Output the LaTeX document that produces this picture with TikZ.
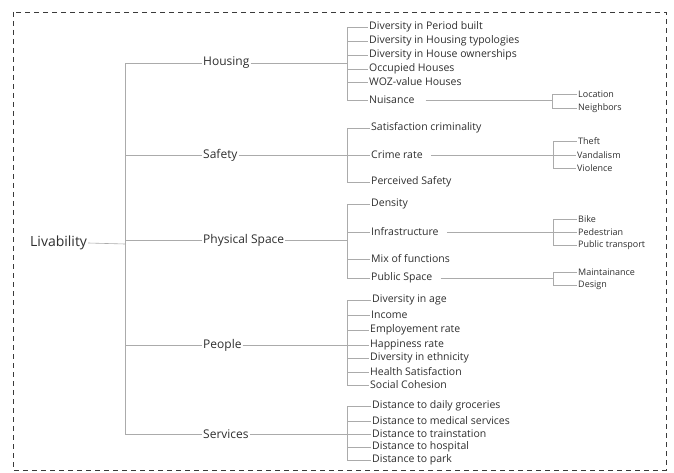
\documentclass[tikz,border=0pt]{standalone}
\usepackage{fontspec}
\setmainfont{Open Sans}
\definecolor{txt}{HTML}{2E2E2E}
\definecolor{wire}{HTML}{ABABAB}
\definecolor{frame}{HTML}{3A3A3A}
\begin{document}
\begin{tikzpicture}[x=1pt,y=-1pt,
  lbl/.style={anchor=west,inner sep=1pt,text=txt},
  root/.style={lbl,font=\fontsize{14}{16}\selectfont},
  cat/.style={lbl,font=\fontsize{12}{14}\selectfont},
  leaf/.style={lbl,font=\fontsize{10.5}{12}\selectfont},
  sub/.style={lbl,font=\fontsize{9}{11}\selectfont},
  wire/.style={draw=wire,line width=0.6pt}]
\useasboundingbox (0,0) rectangle (674,473);
\draw[frame,line width=0.9pt,dash pattern=on 5pt off 4pt] (13,12) rectangle (666,470);

% root and categories
\node[root] (liv) at (29,243) {Livability};
\node[cat] (hou) at (202,63) {Housing};
\node[cat] (saf) at (202,155) {Safety};
\node[cat] (phy) at (202,240) {Physical Space};
\node[cat] (peo) at (202,345) {People};
\node[cat] (ser) at (202,434) {Services};

% Housing
\node[leaf] (h1) at (368,27) {Diversity in Period built};
\node[leaf] (h2) at (368,41) {Diversity in Housing typologies};
\node[leaf] (h3) at (368,55) {Diversity in House ownerships};
\node[leaf] (h4) at (368,69) {Occupied Houses};
\node[leaf] (h5) at (368,82) {WOZ-value Houses};
\node[leaf] (h6) at (368,100) {Nuisance};
\node[sub] (h61) at (577,94) {Location};
\node[sub] (h62) at (577,108) {Neighbors};

% Safety
\node[leaf] (s1) at (370,128) {Satisfaction criminality};
\node[leaf] (s2) at (370,155) {Crime rate};
\node[leaf] (s3) at (370,182) {Perceived Safety};
\node[sub] (s21) at (577,141) {Theft};
\node[sub] (s22) at (576,155) {Vandalism};
\node[sub] (s23) at (576,168) {Violence};

% Physical Space
\node[leaf] (p1) at (370,204) {Density};
\node[leaf] (p2) at (370,232) {Infrastructure};
\node[leaf] (p3) at (370,259) {Mix of functions};
\node[leaf] (p4) at (370,278) {Public Space};
\node[sub] (p21) at (577,219) {Bike};
\node[sub] (p22) at (577,232) {Pedestrian};
\node[sub] (p23) at (577,245) {Public transport};
\node[sub] (p41) at (577,272) {Maintainance};
\node[sub] (p42) at (577,285) {Design};

% People
\node[leaf] (q1) at (371,300) {Diversity in age};
\node[leaf] (q2) at (370,315) {Income};
\node[leaf] (q3) at (369,330) {Employement rate};
\node[leaf] (q4) at (369,345) {Happiness rate};
\node[leaf] (q5) at (369,358) {Diversity in ethnicity};
\node[leaf] (q6) at (369,372) {Health Satisfaction};
\node[leaf] (q7) at (369,385) {Social Cohesion};

% Services
\node[leaf] (v1) at (371,406) {Distance to daily groceries};
\node[leaf] (v2) at (371,421) {Distance to medical services};
\node[leaf] (v3) at (371,434) {Distance to trainstation};
\node[leaf] (v4) at (371,447) {Distance to hospital};
\node[leaf] (v5) at (371,460) {Distance to park};

% junction points of the tree
\coordinate (j0) at (125,244);
\coordinate (jh) at (347,63);
\coordinate (js) at (347,155);
\coordinate (jp) at (347,240);
\coordinate (jq) at (347,345);
\coordinate (jv) at (347,434);
\coordinate (kn) at (552,100);
\coordinate (kc) at (553,155);
\coordinate (ki) at (553,232);
\coordinate (kp) at (553,278);

% trunk
\draw[wire] (liv.east) -- (j0);
\foreach \c in {hou,saf,phy,peo,ser} \draw[wire] (j0) |- (\c.west);

% category branches
\draw[wire] (hou.east) -- (jh);
\foreach \n in {h1,h2,h3,h4,h5,h6} \draw[wire] (jh) |- (\n.west);
\draw[wire] (saf.east) -- (js);
\foreach \n in {s1,s2,s3} \draw[wire] (js) |- (\n.west);
\draw[wire] (phy.east) -- (jp);
\foreach \n in {p1,p2,p3,p4} \draw[wire] (jp) |- (\n.west);
\draw[wire] (peo.east) -- (jq);
\foreach \n in {q1,q2,q3,q4,q5,q6,q7} \draw[wire] (jq) |- (\n.west);
\draw[wire] (ser.east) -- (jv);
\foreach \n in {v1,v2,v3,v4,v5} \draw[wire] (jv) |- (\n.west);

% third level
\draw[wire] ([xshift=10pt]h6.east) -- (kn);
\foreach \n in {h61,h62} \draw[wire] (kn) |- (\n.west);
\draw[wire] ([xshift=7pt]s2.east) -- (kc);
\foreach \n in {s21,s22,s23} \draw[wire] (kc) |- (\n.west);
\draw[wire] ([xshift=7pt]p2.east) -- (ki);
\foreach \n in {p21,p22,p23} \draw[wire] (ki) |- (\n.west);
\draw[wire] ([xshift=7pt]p4.east) -- (kp);
\foreach \n in {p41,p42} \draw[wire] (kp) |- (\n.west);
\end{tikzpicture}
\end{document}
